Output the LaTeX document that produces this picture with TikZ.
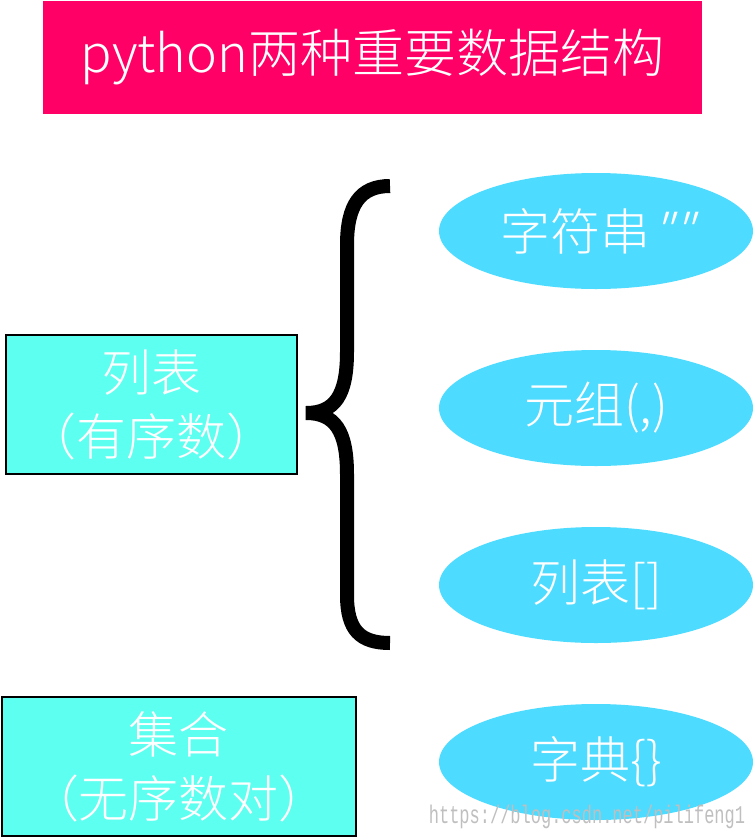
\documentclass[tikz,border=0pt]{standalone}
\usepackage{fontspec}
\newfontfamily\cjk{Noto Sans CJK SC}[UprightFont={* Light}]
\newfontfamily\cjkslant{Noto Sans CJK SC}[UprightFont={* Light}, FakeSlant=0.3]
\newfontfamily\wmfont{Liberation Mono}
\usetikzlibrary{shapes.geometric}
\definecolor{titlered}{HTML}{FF0066}
\definecolor{boxcyan}{HTML}{5CFFF0}
\definecolor{ovalblue}{HTML}{4DDBFF}
\tikzset{
  titlebox/.style={fill=titlered, text=white, minimum width=659pt, minimum height=113pt,
    inner sep=0pt, font=\cjk\fontsize{52}{60}\selectfont},
  kindbox/.style={draw=black, line width=1.5pt, fill=boxcyan, text=white, minimum height=139pt,
    inner sep=0pt, align=center, font=\cjk\fontsize{50}{64}\selectfont},
  typeoval/.style={ellipse, fill=ovalblue, text=white, minimum width=314pt, minimum height=116pt,
    inner sep=0pt, font=\cjk\fontsize{50}{60}\selectfont}
}

\begin{document}
\begin{tikzpicture}[x=1pt,y=-1pt]
  \useasboundingbox (0,0) rectangle (754,839);
  \node[titlebox] (title) at (372.5,57.5) {python两种重要数据结构};
  \node[kindbox, minimum width=291pt] (list) at (151.5,404.5) {列表\\（有序数）};
  \node[kindbox, minimum width=354pt] (set) at (179,766.5) {集合\\（无序数对）};
  \node[typeoval] (str) at (596,231) {字符串{\cjkslant""}};
  \node[typeoval] (tuple) at (596,408) {元组(,)};
  \node[typeoval] (lst) at (596,585) {列表[]};
  \node[typeoval] (dict) at (596,762) {字典\{\}};
  % brace
  \draw[line width=14pt] (390,186) .. controls (360,186) and (347,205) .. (347,245)
    -- (347,352) .. controls (347,395) and (335,413) .. (306,413)
    .. controls (335,413) and (347,431) .. (347,474)
    -- (347,595) .. controls (347,630) and (360,643) .. (390,643);
  \node[text=black!25, font=\wmfont\fontsize{17}{17}\selectfont] (mark) at (587,817)
    {\scalebox{1}[1.5]{https://blog.csdn.net/pilifeng1}};
\end{tikzpicture}
\end{document}
